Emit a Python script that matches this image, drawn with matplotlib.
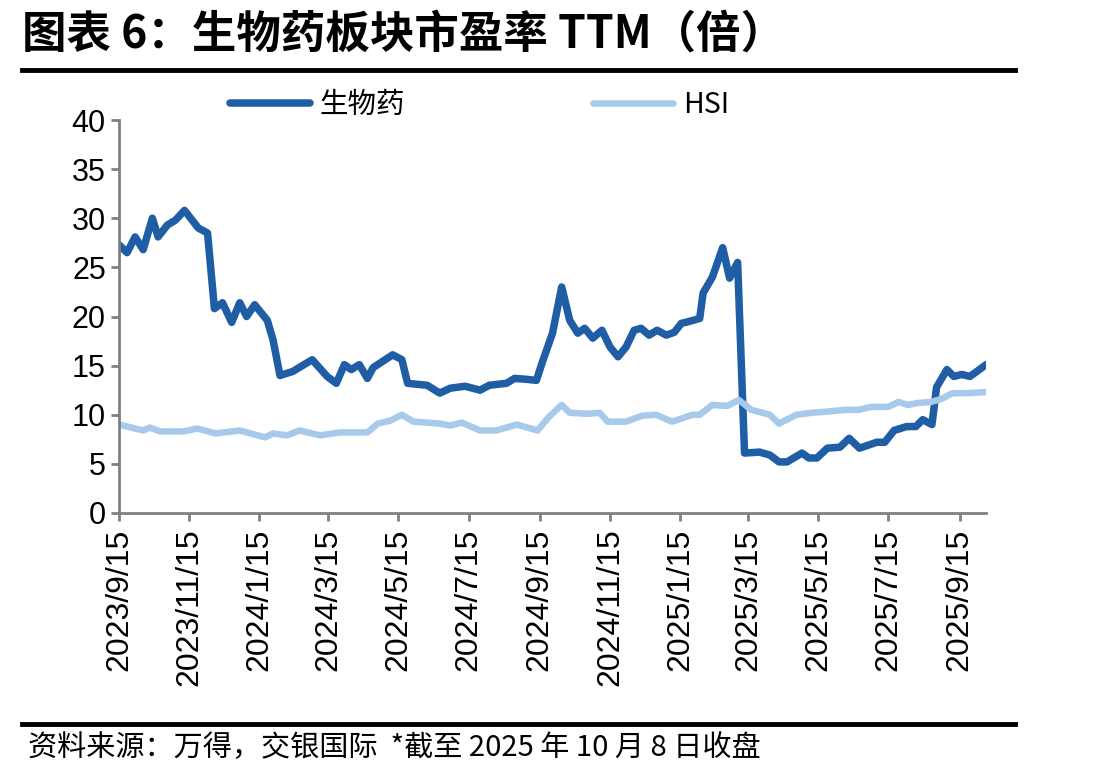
import numpy as np
import pandas as pd
import matplotlib
matplotlib.use('Agg')
import matplotlib.pyplot as plt
from matplotlib.lines import Line2D

plt.rcParams['font.family'] = ['Liberation Sans', 'Noto Sans CJK SC', 'DejaVu Sans']

# data
bio_dates = ['2023-09-15', '2023-09-22', '2023-09-29', '2023-10-06', '2023-10-14', '2023-10-19',
             '2023-10-27', '2023-11-03', '2023-11-11', '2023-11-23', '2023-12-01', '2023-12-07',
             '2023-12-14', '2023-12-22', '2023-12-29', '2024-01-04', '2024-01-11', '2024-01-22',
             '2024-01-27', '2024-02-02', '2024-02-13', '2024-03-01', '2024-03-14', '2024-03-22',
             '2024-03-29', '2024-04-04', '2024-04-11', '2024-04-18', '2024-04-23', '2024-05-10',
             '2024-05-18', '2024-05-23', '2024-06-09', '2024-06-20', '2024-06-29', '2024-07-12',
             '2024-07-25', '2024-08-02', '2024-08-17', '2024-08-24', '2024-09-04', '2024-09-12',
             '2024-09-17', '2024-09-26', '2024-10-04', '2024-10-11', '2024-10-18', '2024-10-24',
             '2024-10-31', '2024-11-08', '2024-11-15', '2024-11-22', '2024-11-29', '2024-12-06',
             '2024-12-12', '2024-12-19', '2024-12-26', '2025-01-03', '2025-01-10', '2025-01-16',
             '2025-01-23', '2025-02-01', '2025-02-04', '2025-02-12', '2025-02-21', '2025-02-27',
             '2025-03-06', '2025-03-12', '2025-03-25', '2025-04-03', '2025-04-11', '2025-04-18',
             '2025-05-01', '2025-05-07', '2025-05-14', '2025-05-23', '2025-06-03', '2025-06-11',
             '2025-06-20', '2025-07-05', '2025-07-12', '2025-07-20', '2025-07-31', '2025-08-08',
             '2025-08-14', '2025-08-22', '2025-08-26', '2025-09-04', '2025-09-10', '2025-09-17',
             '2025-09-24', '2025-09-30', '2025-10-08']
bio_pe = [27.3, 26.5, 28.1, 26.8, 30.0, 28.1,
          29.3, 29.8, 30.8, 29.0, 28.5, 20.8,
          21.4, 19.4, 21.4, 20.0, 21.2, 19.6,
          17.6, 14.0, 14.4, 15.6, 13.9, 13.2,
          15.1, 14.6, 15.1, 13.7, 14.8, 16.1,
          15.6, 13.2, 13.0, 12.2, 12.7, 12.9,
          12.5, 13.0, 13.2, 13.7, 13.6, 13.5,
          15.3, 18.3, 23.0, 19.6, 18.3, 18.8,
          17.8, 18.6, 16.9, 15.9, 16.9, 18.6,
          18.8, 18.1, 18.6, 18.1, 18.4, 19.3,
          19.5, 19.8, 22.4, 24.0, 27.0, 23.9,
          25.5, 6.1, 6.2, 5.9, 5.2, 5.2,
          6.1, 5.6, 5.6, 6.6, 6.7, 7.6,
          6.6, 7.2, 7.2, 8.4, 8.8, 8.8,
          9.5, 9.0, 12.8, 14.6, 13.9, 14.1,
          13.9, 14.4, 15.1]

hsi_dates = ['2023-09-15', '2023-10-06', '2023-10-12', '2023-10-21', '2023-11-10', '2023-11-22',
             '2023-12-08', '2023-12-29', '2024-01-20', '2024-01-27', '2024-02-08', '2024-02-19',
             '2024-03-08', '2024-03-25', '2024-04-18', '2024-04-27', '2024-05-08', '2024-05-18',
             '2024-05-28', '2024-06-20', '2024-06-29', '2024-07-09', '2024-07-25', '2024-08-08',
             '2024-08-26', '2024-09-13', '2024-09-23', '2024-10-04', '2024-10-11', '2024-10-26',
             '2024-11-06', '2024-11-13', '2024-11-29', '2024-12-13', '2024-12-25', '2025-01-08',
             '2025-01-26', '2025-02-01', '2025-02-12', '2025-02-25', '2025-03-07', '2025-03-18',
             '2025-04-03', '2025-04-11', '2025-04-26', '2025-05-09', '2025-05-21', '2025-06-08',
             '2025-06-19', '2025-06-30', '2025-07-15', '2025-07-24', '2025-08-01', '2025-08-10',
             '2025-08-21', '2025-08-30', '2025-09-09', '2025-09-22', '2025-10-08']
hsi_pe = [9.0, 8.4, 8.7, 8.3, 8.3, 8.6,
          8.1, 8.4, 7.7, 8.1, 7.9, 8.4,
          7.9, 8.2, 8.2, 9.1, 9.4, 10.0,
          9.3, 9.1, 8.9, 9.2, 8.4, 8.4,
          9.0, 8.4, 9.8, 11.0, 10.2, 10.1,
          10.2, 9.3, 9.3, 9.9, 10.0, 9.3,
          10.0, 10.0, 11.0, 10.9, 11.5, 10.5,
          10.0, 9.1, 10.0, 10.2, 10.3, 10.5,
          10.5, 10.8, 10.8, 11.3, 11.0, 11.2,
          11.3, 11.6, 12.2, 12.2, 12.3]

tick_dates = ['2023-09-15', '2023-11-15', '2024-01-15', '2024-03-15', '2024-05-15', '2024-07-15',
              '2024-09-15', '2024-11-15', '2025-01-15', '2025-03-15', '2025-05-15', '2025-07-15',
              '2025-09-15']

dark = '#1f5ea4'
light = '#a6c9ec'
grey = '#808080'
cjk = ['Noto Sans CJK SC', 'DejaVu Sans']

fig = plt.figure(figsize=(10.97, 7.77), dpi=100)
ax = fig.add_axes([119/1097, 1-513/777, (986-119)/1097, (513-120)/777])

ax.plot(pd.to_datetime(bio_dates), bio_pe, color=dark, lw=5.4, solid_capstyle='round', solid_joinstyle='round')
ax.plot(pd.to_datetime(hsi_dates), hsi_pe, color=light, lw=4.7, solid_capstyle='round', solid_joinstyle='round')

ax.set_ylim(0, 40)
ax.set_yticks(np.arange(0, 41, 5))
ax.set_xlim(pd.Timestamp('2023-09-15'), pd.Timestamp('2025-10-08'))
ticks = pd.to_datetime(tick_dates)
ax.set_xticks(ticks)
ax.set_xticklabels([f'{t.year}/{t.month}/{t.day}' for t in ticks], rotation=90)

for s in ['top', 'right']:
    ax.spines[s].set_visible(False)
for s in ['left', 'bottom']:
    ax.spines[s].set_color(grey)
    ax.spines[s].set_linewidth(2)
ax.tick_params(axis='both', colors=grey, width=2, length=6, labelsize=22, labelcolor='black')
ax.tick_params(axis='x', labelsize=23, pad=5)

# legend
handles = [Line2D([], [], color=dark, lw=5.4, solid_capstyle='round'),
           Line2D([], [], color=light, lw=4.7, solid_capstyle='round')]
fig.legend(handles, ['生物药', 'HSI'], loc='center', bbox_to_anchor=(0.437, 1-105/777), ncol=2,
           frameon=False, handlelength=2.8, columnspacing=6.6, handletextpad=0.35,
           prop={'family': cjk, 'size': 20.5})

# title and footer
fig.text(22/1097, 1-35/777, '图表 6：生物药板块市盈率 TTM（倍）', fontsize=32, fontweight='bold',
         family=cjk, va='center', ha='left')
fig.add_artist(Line2D([22/1097, 1015/1097], [1-70/777, 1-70/777], color='black', lw=3.5))
fig.add_artist(Line2D([22/1097, 1015/1097], [1-724/777, 1-724/777], color='black', lw=3.5))
fig.text(28/1097, 1-748/777, '资料来源：万得，交银国际  *截至 2025 年 10 月 8 日收盘', fontsize=21,
         family=cjk, style='italic', va='center', ha='left')

fig.savefig('out.png', dpi=100)
